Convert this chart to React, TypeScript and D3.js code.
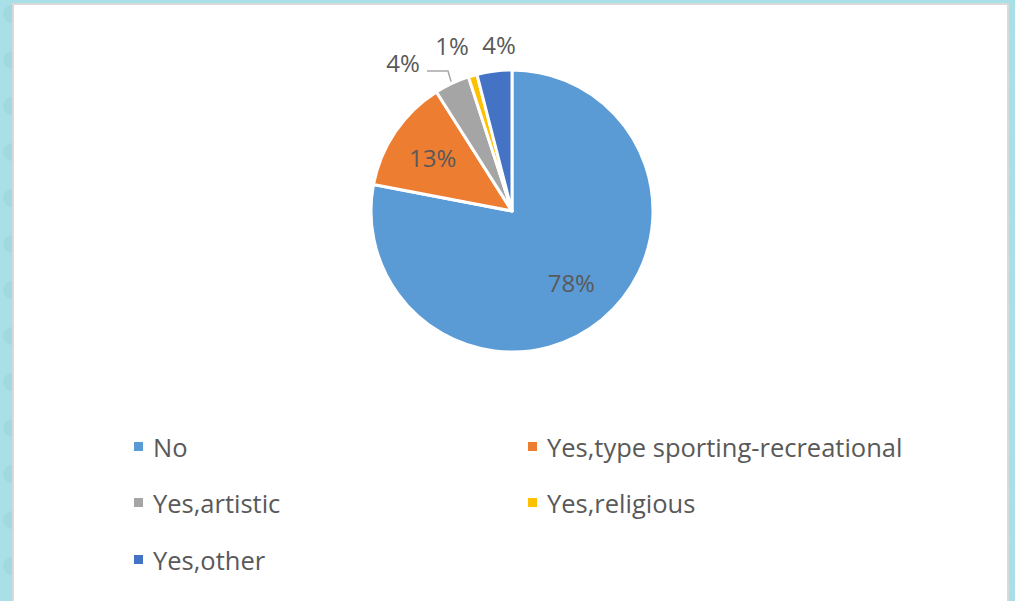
import React from "react";
import * as d3 from "d3";

const categories = ["No", "Yes,type sporting-recreational", "Yes,artistic", "Yes,religious", "Yes,other"];
const values = [78, 13, 4, 1, 4];
const labels = ["78%", "13%", "4%", "1%", "4%"];
const colors = ["#5b9bd5", "#ed7d31", "#a5a5a5", "#ffc000", "#4472c4"];

const W = 1015;
const H = 601;
const cx = 512;
const cy = 211;
const R = 141;

export default function App() {
  const pie = d3.pie<number>().sort(null).value((d) => d)(values);
  const arc = d3.arc<d3.PieArcDatum<number>>().innerRadius(0).outerRadius(R);
  const font = "'Open Sans', Lato, sans-serif";
  const textColor = "#595959";

  const labelPos = pie.map((p, i) => {
    const mid = (p.startAngle + p.endAngle) / 2;
    if (i === 0) return [Math.sin(mid) * R * 0.66, -Math.cos(mid) * R * 0.66];
    if (i === 1) return [Math.sin(mid) * R * 0.68, -Math.cos(mid) * R * 0.68];
    return [Math.sin(mid) * R * 1.2, -Math.cos(mid) * R * 1.2];
  });
  const outside: Record<number, [number, number]> = {
    2: [-109, -149],
    3: [-60, -166],
    4: [-13, -167],
  };

  const legendX = [138, 532];
  const legendY = [447, 503, 560];

  const grayMid = (pie[2].startAngle + pie[2].endAngle) / 2;
  const gx = cx + Math.sin(grayMid) * (R + 2);
  const gy = cy - Math.cos(grayMid) * (R + 2);

  return (
    <div style={{ position: "fixed", left: 0, top: 0 }}>
      <svg width={W} height={H} style={{ display: "block" }}>
        <defs>
          <pattern id="tex" width="46" height="46" patternUnits="userSpaceOnUse">
            <rect width="46" height="46" fill="#a9dfe6" />
            <circle cx="12" cy="14" r="9" fill="#97d4dd" opacity="0.45" />
            <circle cx="34" cy="34" r="10" fill="#c2e9ee" opacity="0.45" />
          </pattern>
        </defs>
        <rect width={W} height={H} fill="url(#tex)" />
        <rect x={13} y={4} width={995} height={H} fill="#ffffff" stroke="#d9d9d9" strokeWidth={2} />
        <g transform={`translate(${cx},${cy})`}>
          {pie.map((p, i) => (
            <path key={i} d={arc(p) || ""} fill={colors[i]} stroke="#ffffff" strokeWidth={3} strokeLinejoin="round" />
          ))}
          {labels.map((t, i) => {
            const pos = outside[i] ? outside[i] : labelPos[i];
            return (
              <text
                key={i}
                x={pos[0]}
                y={pos[1]}
                textAnchor="middle"
                dominantBaseline="central"
                fontFamily={font}
                fontSize={24}
                fill={textColor}
              >
                {t}
              </text>
            );
          })}
        </g>
        <polyline
          points={`427,71 448,71 ${gx},${gy}`}
          fill="none"
          stroke="#a6a6a6"
          strokeWidth={1.5}
        />
        {categories.map((c, i) => {
          const col = i % 2;
          const row = Math.floor(i / 2);
          const x = legendX[col];
          const y = legendY[row];
          return (
            <g key={c}>
              <rect x={x - 4} y={y - 5} width={9} height={9} fill={colors[i]} />
              <text x={x + 15} y={y} dominantBaseline="central" fontFamily={font} fontSize={25.5} fill={textColor}>
                {c}
              </text>
            </g>
          );
        })}
      </svg>
    </div>
  );
}
